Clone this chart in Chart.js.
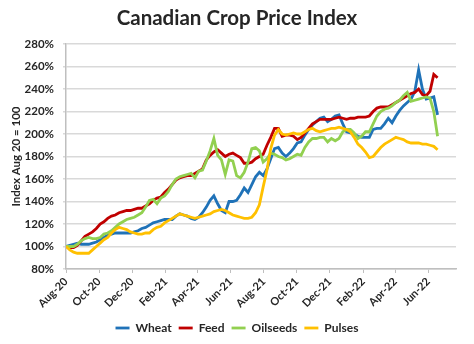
<!DOCTYPE html>
<html>
<head>
<meta charset="utf-8">
<script src="https://cdn.jsdelivr.net/npm/chart.js@4.4.1/dist/chart.umd.min.js"></script>
<style>
  html, body { margin: 0; padding: 0; background: #fff; }
  #wrap { width: 474px; height: 344px; }
</style>
</head>
<body>
<div id="wrap"><canvas id="chart"></canvas></div>
<script>
// weekly readings, day 0 = start of Aug 2020
const stepDays = 7;
const tickDays = [0, 61, 122, 184, 243, 304, 365, 426, 487, 549, 608, 669];
const tickLabels = ['Aug-20', 'Oct-20', 'Dec-20', 'Feb-21', 'Apr-21', 'Jun-21',
  'Aug-21', 'Oct-21', 'Dec-21', 'Feb-22', 'Apr-22', 'Jun-22'];

const wheat = [100, 101, 102, 103, 102, 102, 102, 103, 104, 106, 108, 110, 111, 112, 112, 112, 112, 112, 113, 114,
  116, 117, 119, 121, 122, 123, 124, 124, 124, 127, 129, 128, 127, 125, 124, 126, 130, 135, 141, 145,
  138, 132, 130, 140, 140, 141, 146, 152, 148, 155, 162, 166, 163, 169, 178, 187, 188, 183, 180, 183,
  187, 192, 193, 199, 204, 208, 211, 214, 215, 211, 213, 216, 217, 209, 202, 201, 200, 198, 197, 197,
  197, 204, 205, 205, 209, 214, 210, 216, 221, 225, 228, 231, 238, 257, 240, 231, 232, 233, 217];

const feed = [100, 99, 99, 101, 105, 109, 111, 113, 116, 120, 122, 125, 127, 128, 130, 131, 132, 132, 133, 134,
  134, 136, 138, 141, 143, 144, 148, 151, 155, 159, 161, 162, 163, 163, 165, 167, 169, 177, 181, 184,
  186, 183, 180, 182, 183, 181, 179, 174, 174, 175, 178, 180, 182, 190, 197, 205, 205, 198, 199, 199,
  198, 195, 197, 201, 205, 209, 211, 213, 213, 213, 213, 214, 215, 214, 213, 214, 214, 215, 215, 215,
  216, 220, 223, 224, 224, 224, 226, 228, 230, 232, 234, 236, 237, 240, 235, 234, 238, 253, 250];

const oilseeds = [100, 100, 100, 102, 105, 107, 108, 107, 107, 108, 111, 112, 114, 117, 120, 122, 124, 125, 126, 128,
  130, 135, 141, 142, 138, 143, 145, 149, 155, 160, 162, 163, 164, 165, 161, 167, 168, 176, 185, 196,
  181, 177, 164, 177, 176, 163, 161, 166, 175, 187, 188, 185, 175, 178, 183, 182, 180, 179, 177, 178,
  180, 182, 181, 188, 193, 196, 196, 197, 197, 193, 196, 194, 196, 202, 204, 204, 201, 196, 198, 202,
  202, 209, 216, 220, 222, 223, 225, 228, 230, 234, 237, 229, 230, 231, 232, 233, 232, 220, 198];

const pulses = [100, 97, 95, 94, 94, 94, 94, 97, 100, 103, 106, 108, 112, 115, 117, 116, 115, 113, 112, 111,
  111, 112, 112, 115, 117, 118, 121, 123, 125, 127, 129, 128, 127, 126, 125, 126, 127, 128, 129, 131,
  132, 133, 132, 130, 128, 127, 126, 125, 125, 126, 130, 137, 153, 168, 187, 199, 204, 200, 199, 200,
  201, 200, 200, 202, 204, 205, 203, 202, 203, 204, 205, 205, 206, 205, 204, 202, 197, 191, 188, 184,
  179, 180, 184, 188, 191, 193, 195, 197, 196, 195, 193, 192, 192, 192, 191, 191, 190, 189, 186];

const seriesNames = ['Wheat', 'Feed', 'Oilseeds', 'Pulses'];
const seriesColors = ['#1f72b8', '#c00000', '#92d050', '#ffc000'];
const seriesValues = [wheat, feed, oilseeds, pulses];

const font = 'Lato, "Open Sans", sans-serif';
const ink = '#262626';

const datasets = seriesValues.map((vals, k) => ({
  label: seriesNames[k],
  data: vals.map((v, i) => ({ x: i * stepDays, y: v })),
  borderColor: seriesColors[k],
  backgroundColor: seriesColors[k],
  borderWidth: 2.8,
  pointRadius: 0,
  tension: 0,
  order: seriesValues.length - k   // later series drawn on top, like the original
}));

new Chart(document.getElementById('chart'), {
  type: 'line',
  data: { datasets },
  options: {
    responsive: true,
    maintainAspectRatio: false,
    animation: false,
    layout: { padding: 0 },
    plugins: {
      title: {
        display: true,
        text: 'Canadian Crop Price Index',
        color: ink,
        font: { family: font, size: 20.5, weight: 'bold' },
        padding: { top: 6, bottom: 13.4 }
      },
      legend: {
        position: 'bottom',
        labels: {
          usePointStyle: true,
          pointStyle: 'line',
          pointStyleWidth: 14,
          color: ink,
          font: { family: font, size: 12, weight: 'bold' },
          padding: 7,
          sort: (a, b) => a.datasetIndex - b.datasetIndex
        }
      },
      tooltip: { enabled: false }
    },
    scales: {
      x: {
        type: 'linear',
        min: 0,
        max: 720,
        afterBuildTicks: s => { s.ticks = tickDays.map(v => ({ value: v })); },
        afterFit: s => { s.height = 46; },
        ticks: {
          autoSkip: false,
          maxRotation: 45,
          minRotation: 45,
          padding: 2,
          color: ink,
          font: { family: font, size: 11, weight: 'bold' },
          callback: (v) => tickLabels[tickDays.indexOf(v)]
        },
        grid: { drawOnChartArea: false, tickLength: 4, color: '#bfbfbf' },
        border: { color: '#bfbfbf', width: 1.5 }
      },
      y: {
        min: 80,
        max: 280,
        afterFit: s => { s.width = 66; },
        ticks: {
          stepSize: 20,
          padding: 9,
          color: ink,
          font: { family: font, size: 11.5, weight: 'bold' },
          callback: v => v + '%'
        },
        grid: { color: '#d9d9d9', lineWidth: 1.5, tickLength: 3 },
        border: { color: '#bfbfbf', width: 1.5 },
        title: {
          display: true,
          text: 'Index Aug 20 = 100',
          color: ink,
          font: { family: font, size: 11.5, weight: 'bold' },
          padding: { top: 9, bottom: 0 }
        }
      },
      // empty right-hand margin so title and legend stay centred on the page
      yRight: {
        position: 'right',
        afterFit: s => { s.width = 18; },
        ticks: { display: false },
        grid: { display: false },
        border: { display: false }
      }
    }
  }
});
</script>
</body>
</html>
